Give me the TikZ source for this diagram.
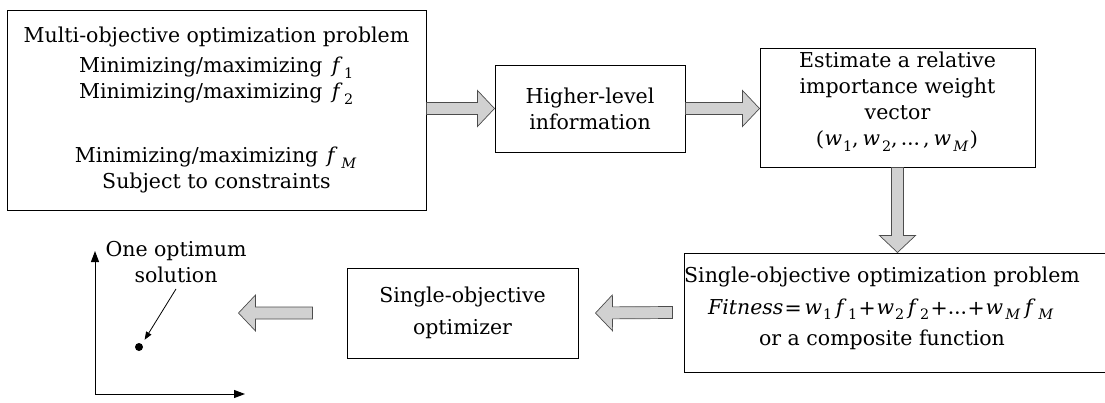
\documentclass[tikz,border=0pt]{standalone}
\usepackage{fontspec}
\usepackage{unicode-math}
\setmainfont{DejaVu Serif}
\setmathfont{DejaVu Math TeX Gyre}
\usetikzlibrary{calc,arrows.meta}

% wide grey block arrow from #1 to #2
\newcommand{\fatarrow}[2]{%
  \path (#1) coordinate (tail) (#2) coordinate (tip)
    ($(tip)!17pt!(tail)$) coordinate (neck);
  \draw[fatarrow] ($(tail)!6pt!90:(tip)$) -- ($(neck)!6pt!90:(tip)$)
    -- ($(neck)!18pt!90:(tip)$) -- (tip) -- ($(neck)!18pt!-90:(tip)$)
    -- ($(neck)!6pt!-90:(tip)$) -- ($(tail)!6pt!-90:(tip)$) -- cycle;
}

\begin{document}
\begin{tikzpicture}[x=1pt, y=-1pt,
    font=\fontsize{20.5}{26}\selectfont,
    box/.style={draw, line width=1pt, align=center, inner sep=0pt},
    fatarrow/.style={draw=black!70, fill=black!18, line width=0.7pt, line join=miter}]
    \useasboundingbox (0,0) rectangle (1105,402);

    % Boxes
    \node[box, minimum width=419pt, minimum height=200pt] (moop) at (216.5,110)
        {Multi-objective optimization problem\\[4pt]
         Minimizing/maximizing~$f_1$\\
         Minimizing/maximizing~$f_2$\\[38pt]
         Minimizing/maximizing~$f_M$\\
         Subject to constraints};
    \node[box, minimum width=190pt, minimum height=87pt] (hli) at (590,108.5)
        {Higher-level\\information};
    \node[box, minimum width=275pt, minimum height=119pt] (wvec) at (897.5,107.5) {};
    \node[align=center] (wtext) at (897.5,102)
        {Estimate a relative\\importance weight\\vector\\$(w_1,w_2,\ldots,w_M)$};
    \node[box, minimum width=440pt, minimum height=119pt] (sopbox) at (904,312.5) {};
    \node[align=center] (sop) at (882,308)
        {Single-objective optimization problem\\[6pt]
         \medmuskip=1mu \thickmuskip=2mu
         \textit{Fitness}${}=w_1f_1+w_2f_2+\ldots+w_Mf_M$\\[5pt]
         or a composite function};
    \node[box, minimum width=231pt, minimum height=90pt] (soo) at (462.5,313)
        {Single-objective\\[6pt]optimizer};

    % Block arrows
    \fatarrow{moop.east |- hli.west}{hli.west}
    \fatarrow{hli.east}{wvec.west |- hli.east}
    \fatarrow{wvec.south}{sopbox.north -| wvec.south}
    \fatarrow{$(sopbox.west)+(-11,0)$}{$(soo.east)+(17,0)$}
    \fatarrow{$(soo.west)+(-34,0)$}{$(soo.west)+(-108,0)$}

    % Objective space
    \coordinate (origin) at (95,394);
    \draw[line width=1pt, -{Triangle[length=11pt,width=8pt]}] (origin) -- (95,251);
    \draw[line width=1pt, -{Triangle[length=11pt,width=8pt]}] (origin) -- (245,394);
    \node[circle, fill, inner sep=0pt, minimum size=8pt] (opt) at (139,347) {};
    \node[align=center, inner sep=0pt] (optlabel) at (176,262)
        {One optimum\\solution};
    \draw[line width=0.8pt, -{Triangle[length=8pt,width=6pt]}, shorten >=5pt]
        (optlabel.south) ++(0,6) -- (opt.north east);
\end{tikzpicture}
\end{document}
